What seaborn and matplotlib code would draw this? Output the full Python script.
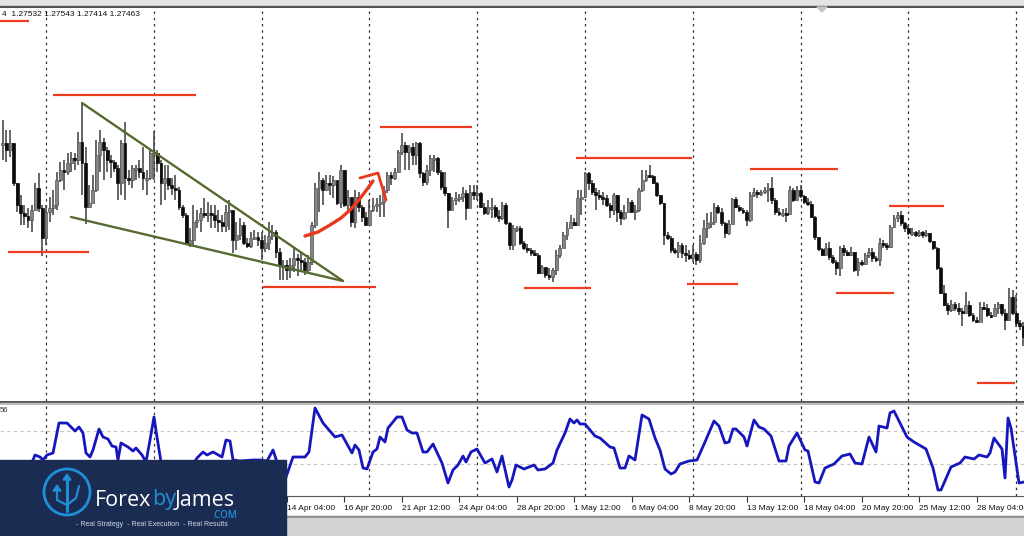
import numpy as np
import matplotlib.pyplot as plt
from matplotlib.patches import Circle, Rectangle, Polygon
import seaborn as sns

sns.set_style('white')
plt.rcParams['font.family'] = ['Liberation Sans', 'DejaVu Sans']

# the price scale is cropped out of the picture, so candles are read as chart height (0 = top)
close = [
    143, 150, 143, 183, 205, 213, 216, 220, 210, 188,
    208, 238, 212, 208, 205, 180, 170, 172, 163, 158,
    160, 142, 163, 207, 203, 190, 155, 142, 150, 160,
    162, 168, 183, 143, 178, 180, 168, 168, 172, 178,
    178, 153, 153, 163, 183, 178, 185, 188, 190, 207,
    215, 243, 240, 222, 220, 213, 214, 213, 215, 220,
    222, 226, 212, 210, 240, 235, 225, 243, 246, 238,
    237, 240, 248, 243, 236, 232, 252, 265, 265, 270,
    265, 258, 260, 262, 270, 262, 225, 188, 180, 190,
    183, 185, 180, 203, 170, 205, 197, 222, 197, 207,
    217, 225, 210, 206, 204, 202, 190, 175, 178, 172,
    152, 145, 152, 147, 155, 143, 173, 182, 170, 158,
    158, 172, 187, 193, 210, 200, 198, 197, 193, 208,
    192, 195, 193, 207, 213, 207, 207, 216, 218, 205,
    223, 245, 228, 228, 243, 248, 250, 253, 255, 273,
    267, 275, 277, 270, 255, 248, 235, 228, 222, 225,
    198, 197, 173, 183, 192, 195, 197, 198, 205, 210,
    195, 212, 218, 212, 202, 212, 210, 190, 180, 175,
    176, 183, 195, 203, 235, 238, 250, 252, 245, 253,
    255, 258, 254, 260, 243, 228, 223, 222, 207, 212,
    223, 233, 224, 199, 207, 210, 212, 220, 195, 192,
    194, 192, 190, 188, 200, 212, 213, 213, 214, 190,
    200, 190, 196, 202, 204, 217, 237, 249, 255, 248,
    257, 262, 268, 248, 252, 255, 252, 270, 262, 264,
    255, 252, 258, 260, 243, 245, 247, 227, 218, 215,
    223, 228, 233, 232, 235, 232, 235, 233, 241, 248,
    268, 293, 305, 310, 304, 308, 311, 313, 305, 315,
    320, 322, 307, 308, 315, 316, 308, 304, 313, 320,
    297, 313, 323, 326, 337,
]
high = [
    120, 130, 130, 143, 183, 195, 205, 208, 205, 183,
    173, 205, 205, 197, 190, 172, 162, 160, 153, 152,
    153, 132, 103, 147, 185, 175, 140, 130, 138, 147,
    155, 160, 165, 140, 122, 170, 165, 165, 160, 147,
    170, 150, 131, 150, 160, 165, 165, 178, 175, 187,
    205, 213, 228, 205, 210, 208, 198, 202, 205, 205,
    210, 215, 205, 200, 215, 222, 218, 222, 238, 232,
    230, 232, 232, 235, 222, 225, 230, 248, 260, 260,
    258, 248, 254, 252, 258, 255, 222, 183, 172, 178,
    175, 175, 176, 185, 165, 170, 190, 205, 190, 192,
    205, 212, 200, 198, 198, 195, 186, 172, 172, 168,
    150, 133, 142, 145, 143, 142, 142, 172, 165, 155,
    155, 157, 170, 172, 193, 197, 192, 194, 187, 190,
    185, 185, 185, 192, 203, 200, 198, 205, 210, 202,
    203, 222, 225, 226, 226, 241, 244, 248, 250, 253,
    265, 268, 268, 268, 250, 245, 232, 222, 215, 218,
    190, 190, 172, 172, 180, 188, 190, 192, 195, 203,
    193, 195, 210, 205, 198, 200, 205, 188, 170, 170,
    165, 175, 182, 195, 203, 232, 236, 248, 242, 243,
    245, 250, 245, 252, 235, 220, 213, 212, 203, 205,
    208, 222, 220, 198, 197, 205, 208, 210, 192, 188,
    190, 190, 187, 183, 177, 198, 208, 209, 208, 186,
    188, 186, 185, 195, 198, 201, 216, 237, 248, 243,
    242, 255, 260, 246, 245, 250, 247, 252, 258, 260,
    253, 248, 248, 256, 238, 240, 243, 225, 215, 212,
    211, 222, 225, 228, 231, 230, 231, 230, 233, 241,
    247, 267, 285, 303, 300, 302, 303, 308, 292, 301,
    313, 317, 302, 302, 304, 312, 304, 302, 304, 309,
    288, 290, 295, 320, 322,
]
low = [
    160, 162, 157, 186, 212, 225, 225, 228, 232, 210,
    212, 256, 245, 222, 215, 210, 182, 190, 175, 172,
    170, 165, 195, 224, 208, 200, 192, 172, 180, 172,
    178, 172, 200, 195, 200, 185, 188, 180, 178, 190,
    195, 180, 180, 172, 205, 200, 190, 195, 200, 210,
    218, 245, 247, 245, 228, 232, 218, 222, 228, 228,
    232, 232, 232, 230, 253, 250, 240, 245, 248, 248,
    240, 246, 260, 252, 250, 240, 258, 280, 280, 280,
    278, 272, 276, 272, 275, 272, 265, 228, 212, 205,
    190, 195, 198, 205, 208, 207, 210, 227, 228, 212,
    222, 226, 225, 212, 212, 217, 217, 193, 185, 180,
    172, 155, 170, 170, 165, 165, 178, 186, 185, 176,
    172, 175, 190, 196, 228, 210, 205, 202, 202, 220,
    208, 200, 200, 208, 215, 215, 218, 218, 222, 220,
    225, 250, 250, 232, 245, 250, 253, 256, 256, 274,
    274, 278, 280, 282, 275, 258, 248, 240, 228, 226,
    226, 215, 198, 190, 195, 210, 200, 205, 207, 218,
    215, 222, 225, 220, 212, 212, 220, 212, 192, 182,
    178, 184, 197, 205, 245, 240, 253, 254, 258, 258,
    262, 260, 262, 265, 263, 245, 238, 228, 225, 214,
    226, 238, 235, 224, 208, 212, 214, 226, 222, 197,
    198, 196, 194, 202, 204, 215, 216, 217, 222, 212,
    202, 196, 198, 204, 206, 218, 240, 251, 256, 255,
    260, 264, 275, 276, 256, 256, 256, 272, 276, 266,
    265, 258, 262, 262, 266, 248, 250, 248, 228, 222,
    226, 232, 235, 236, 237, 237, 238, 237, 243, 250,
    270, 294, 306, 315, 312, 311, 315, 326, 312, 317,
    322, 323, 321, 310, 317, 318, 316, 314, 316, 330,
    321, 315, 327, 330, 346,
]

osc_x = [33, 35, 40, 43, 47, 53, 59, 67, 75, 79, 83, 86, 90, 93, 99, 103, 108, 112, 116, 118,
         121, 128, 133, 136, 142, 146, 150, 154, 157, 161, 170, 185, 197, 203, 207, 213, 222,
         226, 230, 233, 240, 253, 260, 267, 273, 277, 285, 293, 305, 309, 315, 323, 335, 342,
         352, 355, 359, 363, 367, 373, 377, 380, 385, 388, 397, 402, 407, 412, 417, 423, 427,
         433, 442, 448, 453, 458, 463, 466, 471, 477, 485, 492, 497, 502, 509, 512, 516, 524,
         534, 538, 545, 553, 557, 565, 570, 574, 577, 580, 585, 595, 600, 610, 614, 620, 625,
         629, 635, 642, 649, 655, 660, 665, 671, 675, 680, 689, 697, 705, 714, 719, 725, 729,
         733, 736, 744, 747, 754, 759, 764, 771, 779, 786, 789, 797, 805, 808, 815, 819, 825,
         834, 842, 850, 855, 862, 869, 876, 879, 887, 890, 894, 902, 907, 914, 926, 933, 938,
         941, 951, 960, 965, 974, 979, 987, 990, 994, 1002, 1005, 1008, 1011, 1019, 1024]
osc_y = [460, 455, 457, 460, 455, 453, 423, 423, 431, 427, 433, 453, 457, 450, 429, 437, 439,
         446, 447, 460, 443, 447, 451, 448, 455, 462, 440, 417, 437, 462, 475, 478, 458, 452,
         455, 452, 457, 440, 441, 460, 461, 460, 460, 461, 450, 462, 480, 457, 457, 452, 408,
         423, 437, 435, 453, 445, 450, 468, 469, 452, 449, 437, 442, 428, 417, 417, 430, 433,
         433, 452, 452, 444, 463, 483, 470, 465, 456, 462, 452, 449, 463, 459, 472, 456, 487,
         480, 465, 469, 465, 470, 469, 463, 450, 433, 419, 423, 420, 424, 424, 436, 438, 447,
         448, 468, 468, 456, 460, 415, 419, 438, 450, 469, 474, 472, 464, 461, 460, 442, 421,
         426, 443, 442, 429, 429, 437, 446, 420, 427, 429, 436, 461, 461, 446, 433, 450, 451,
         482, 483, 468, 464, 456, 454, 463, 464, 437, 452, 426, 428, 413, 411, 427, 437, 442,
         449, 468, 490, 490, 467, 463, 457, 459, 455, 457, 453, 438, 449, 478, 418, 428, 483, 482]
osc_levels = [431, 464]

# hand drawn levels: start, end, height
level_x0 = [0, 53, 8, 263, 380, 524, 576, 687, 750, 836, 889, 977]
level_x1 = [29, 196, 89, 376, 472, 591, 692, 738, 838, 894, 944, 1015]
level_y = [21, 95, 252, 287, 127, 288, 158, 284, 169, 293, 206, 383]

wedge_top_x = [82, 343]
wedge_top_y = [103, 281]
wedge_bot_x = [71, 343]
wedge_bot_y = [217, 281]

curve_x = [305, 318, 330, 341, 350, 358, 365, 373]
curve_y = [236, 232, 225, 218, 210, 201, 192, 181]
head_x = [360, 378, 386]
head_y = [178, 173, 200]

grid_bars = [12, 42, 72, 102, 132, 162, 192, 222, 252, 282]
tick_bars = [79, 95, 111, 127, 143, 159, 175, 191, 207, 223, 239, 255, 271]
tick_labels = ['14 Apr 04:00', '16 Apr 20:00', '21 Apr 12:00', '24 Apr 04:00', '28 Apr 20:00',
               '1 May 12:00', '6 May 04:00', '8 May 20:00', '13 May 12:00', '18 May 04:00',
               '20 May 20:00', '25 May 12:00', '28 May 04:00']
header = '4  1.27532 1.27543 1.27414 1.27463'

BAR_STEP = 3.593
BAR_START = 2.9
W, H = 1024, 536


def to_bar(x):
    return (np.asarray(x, dtype=float) - BAR_START) / BAR_STEP


def panel(y0, y1):
    return [0, 1 - y1 / H, 1, (y1 - y0) / H]


def draw_candles(ax):
    c = np.array(close, dtype=float)
    o = np.r_[c[0], c[:-1]]
    bars = np.arange(len(c))
    ax.vlines(bars, high, low, color='#3c3c3c', lw=1.1, zorder=2)
    up = c <= o
    body = np.maximum(np.abs(c - o), 1.6)
    top = np.minimum(c, o)
    ax.bar(bars[up], body[up], bottom=top[up], width=0.8, color='#858585', edgecolor='#555555', lw=0.5, zorder=3)
    ax.bar(bars[~up], body[~up], bottom=top[~up], width=0.8, color='#0c0c0c', edgecolor='#0c0c0c', lw=0.5, zorder=3)


def draw_marks(ax):
    ax.hlines(level_y, to_bar(level_x0), to_bar(level_x1), color='#ee3a1e', lw=1.6, zorder=5)
    ax.plot(to_bar(wedge_top_x), wedge_top_y, color='#566b30', lw=1.7, zorder=4)
    ax.plot(to_bar(wedge_bot_x), wedge_bot_y, color='#566b30', lw=1.7, zorder=4)
    ax.plot(to_bar(curve_x), curve_y, color='#e8391d', lw=2.4, zorder=6)
    ax.plot(to_bar(head_x), head_y, color='#e8391d', lw=2.0, zorder=6)


def draw_logo(ax):
    navy = '#1a2c52'
    blue = '#1f8fd8'
    ax.add_patch(Rectangle((0, 460), 286, 76, color=navy, zorder=10))
    ax.add_patch(Circle((67, 492), 23, fill=False, ec=blue, lw=2, zorder=11))
    ax.plot([67, 67], [478, 511], color=blue, lw=2.2, zorder=11)
    ax.plot([57, 57, 67, 76, 79], [489, 500, 505, 498, 486], color=blue, lw=1.6, zorder=11)
    for x, y in [(67, 474), (57, 485)]:
        ax.add_patch(Polygon([(x - 4, y + 6), (x + 4, y + 6), (x, y)], color=blue, zorder=11))
    ax.text(95, 500, 'Forex', color='white', fontsize=15.5, family='Open Sans', va='center', zorder=11)
    ax.text(152, 500, 'by', color=blue, fontsize=15.5, family='Open Sans', va='center', zorder=11)
    ax.text(175, 500, 'James', color='white', fontsize=15.5, family='Open Sans', va='center', zorder=11)
    ax.text(237, 515, '.COM', color=blue, fontsize=7, family='Open Sans', weight='semibold', ha='right', va='center', zorder=11)
    ax.text(152, 524, '- Real Strategy  - Real Execution  - Real Results', color='#d5dbe6',
            fontsize=5.0, ha='center', va='center', zorder=11)


fig = plt.figure(figsize=(W / 100, H / 100), dpi=100, facecolor='white')

# window chrome goes behind the panels
chrome = fig.add_axes([0, 0, 1, 1], zorder=0)
chrome.set_xlim(0, W)
chrome.set_ylim(H, 0)
chrome.axis('off')
chrome.add_patch(Rectangle((0, 0), W, 6, color='#e4e4e4'))
chrome.add_patch(Rectangle((0, 6), W, 1.2, color='#555555'))
chrome.add_patch(Rectangle((0, 401), W, 1.6, color='#555555'))
chrome.add_patch(Rectangle((0, 402.6), W, 1.6, color='#bdbdbd'))
chrome.add_patch(Rectangle((0, 516), W, 2, color='#8a8a8a'))
chrome.add_patch(Rectangle((0, 518), W, 18, color='#d2d2d2'))

ax = fig.add_axes(panel(7.5, 401), zorder=1)
ax_osc = fig.add_axes(panel(404.5, 496), sharex=ax, zorder=1)

draw_candles(ax)
draw_marks(ax)
ax.set_ylim(401, 7.5)

for level in osc_levels:
    ax_osc.axhline(level, color='#c4c4c4', lw=0.8, ls=(0, (3, 3)), zorder=1)
sns.lineplot(x=to_bar(osc_x), y=osc_y, ax=ax_osc, color='#1616bf', lw=2, sort=False, estimator=None, zorder=4)
ax_osc.set_ylim(496, 404.5)

for a in (ax, ax_osc):
    for bar in grid_bars:
        a.axvline(bar, color='#333333', lw=0.9, ls=(0, (2, 3)), zorder=1)
    a.set_xlim(to_bar(0), to_bar(W))
    a.set_yticks([])
    a.set_ylabel('')
    sns.despine(ax=a, left=True, right=True, top=True, bottom=True)

ax.tick_params(axis='x', bottom=False, labelbottom=False)
ax_osc.spines['bottom'].set_visible(True)
ax_osc.spines['bottom'].set_color('#555555')
ax_osc.set_xticks(tick_bars, tick_labels, ha='left', fontsize=6, color='#111111')
ax_osc.tick_params(axis='x', bottom=True, length=4, width=0.8, color='#333333', pad=2.5)

ax.text(0.002, 0.982, header, transform=ax.transAxes, fontsize=6, color='#111111', va='center')
ax_osc.text(0, 0.93, '56', transform=ax_osc.transAxes, fontsize=5.6, color='#333333', va='center')

# logo sits on top of everything
overlay = fig.add_axes([0, 0, 1, 1], zorder=5)
overlay.set_xlim(0, W)
overlay.set_ylim(H, 0)
overlay.axis('off')
overlay.patch.set_alpha(0)
draw_logo(overlay)
overlay.add_patch(Polygon([(817, 7), (827, 7), (822, 12)], color='#c4c4c4', zorder=6))

fig.savefig('out.png', dpi=100)
